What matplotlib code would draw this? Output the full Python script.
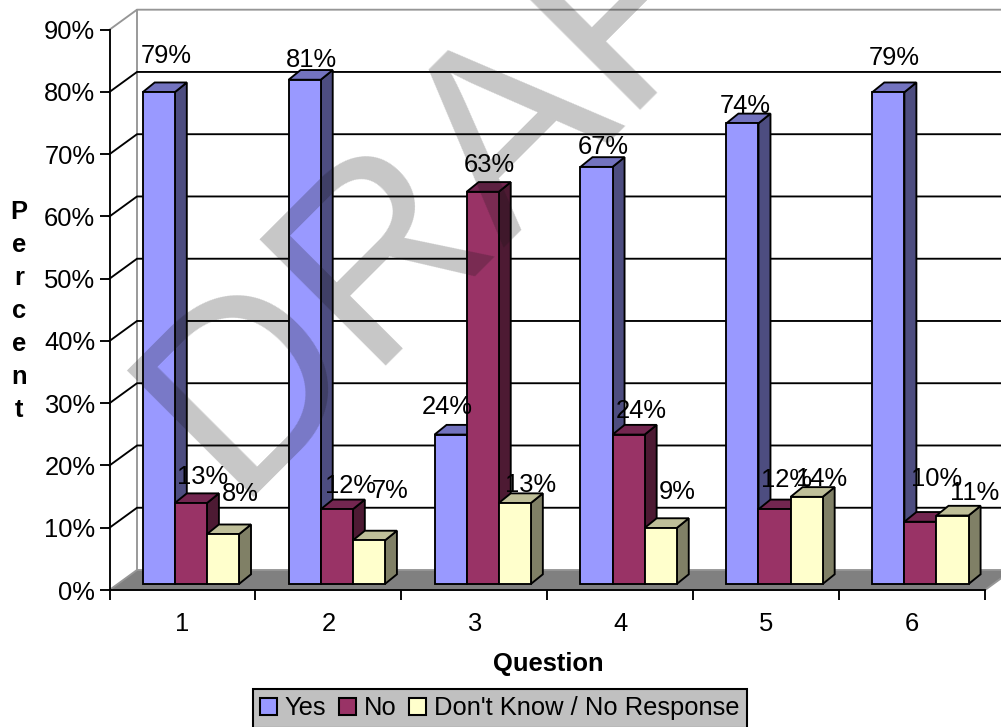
import matplotlib
matplotlib.use('Agg')
import matplotlib.pyplot as plt
from matplotlib.patches import Patch, Polygon, Rectangle

plt.rcParams['font.family'] = ['Liberation Sans', 'DejaVu Sans']

questions = ['1', '2', '3', '4', '5', '6']
yes = [79, 81, 24, 67, 74, 79]
no = [13, 12, 63, 24, 12, 10]
dont_know = [8, 7, 13, 9, 14, 11]
series_names = ['Yes', 'No', "Don't Know / No Response"]
y_ticks = [0, 10, 20, 30, 40, 50, 60, 70, 80, 90]

# colours: front, side, top
yes_colors = ('#9999FF', '#4D4D80', '#7373BF')
no_colors = ('#993366', '#4D1A33', '#732650')
dk_colors = ('#FFFFCC', '#808066', '#BFBF99')

# data label offsets from the top centre of each bar, in pixels
yes_nudge = [(7, 36), (7, 20), (-3, 28), (7, 20), (3, 17), (6, 34)]
no_nudge = [(12, 26), (14, 23), (7, 27), (13, 24), (12, 29), (16, 43)]
dk_nudge = [(17, 40), (21, 49), (16, 18), (16, 36), (15, 18), (22, 23)]

FONT = 18.4
W, H = 1001, 727
fig = plt.figure(figsize=(W / 100, H / 100), dpi=100, facecolor='white')
ax = fig.add_axes([109.5 / W, 1 - 590 / H, 875.5 / W, 560.3 / H])
ax.set_xlim(0, 6)
ax.set_ylim(0, 90)
ax.patch.set_visible(False)

px_x = 875.5 / 6
px_y = 560.3 / 90
LW = 1.35
wall_dx = 27.5 / px_x
wall_dy = 20 / px_y

# floor and back wall
ax.add_patch(Polygon([(0, 0), (6, 0), (6 + wall_dx, wall_dy), (wall_dx, wall_dy)],
                     facecolor='#808080', edgecolor='#969696', lw=LW, clip_on=False, zorder=1))
for v in y_ticks[1:]:
    color = '#969696' if v == 90 else 'black'
    ax.plot([0, wall_dx, 6 + wall_dx], [v, v + wall_dy, v + wall_dy], color=color, lw=LW,
            clip_on=False, zorder=1.5, solid_joinstyle='miter')
ax.plot([wall_dx, wall_dx], [wall_dy, 90 + wall_dy], color='#969696', lw=LW, clip_on=False, zorder=1.4)

# bar geometry
bar_w = 32.1 / px_x
bar_x0 = 0.17 + 8.4 / px_x
bar_y0 = 6 / px_y
depth_x = 12 / px_x
depth_y = 9.7 / px_y


def draw_bar(x, val, colors):
    y = bar_y0
    top = y + val
    edge = dict(edgecolor='black', lw=LW, clip_on=False, zorder=2, joinstyle='miter')
    ax.add_patch(Polygon([(x + bar_w, y), (x + bar_w + depth_x, y + depth_y),
                          (x + bar_w + depth_x, top + depth_y), (x + bar_w, top)],
                         facecolor=colors[1], **edge))
    ax.add_patch(Polygon([(x, top), (x + bar_w, top), (x + bar_w + depth_x, top + depth_y),
                          (x + depth_x, top + depth_y)], facecolor=colors[2], **edge))
    ax.add_patch(Rectangle((x, y), bar_w, val, facecolor=colors[0], **edge))


groups = [(yes, yes_colors, yes_nudge), (no, no_colors, no_nudge), (dont_know, dk_colors, dk_nudge)]
for i in range(len(questions)):
    for s, (vals, colors, nudge) in enumerate(groups):
        x = i + bar_x0 + s * bar_w
        draw_bar(x, vals[i], colors)

# data labels go on top of every bar
for i in range(len(questions)):
    for s, (vals, colors, nudge) in enumerate(groups):
        x = i + bar_x0 + s * bar_w
        ax.annotate(f'{vals[i]}%', xy=(x + bar_w / 2, vals[i] + bar_y0),
                    xytext=(nudge[i][0] * 0.72, nudge[i][1] * 0.72), textcoords='offset points',
                    ha='center', va='center', fontsize=FONT, color='black', zorder=5,
                    annotation_clip=False)

# axes
for side in ['top', 'right']:
    ax.spines[side].set_visible(False)
for side in ['left', 'bottom']:
    ax.spines[side].set_linewidth(LW)
    ax.spines[side].set_zorder(3)
ax.set_yticks(y_ticks)
ax.set_yticklabels([f'{v}%' for v in y_ticks], fontsize=FONT, va='center_baseline')
ax.set_xticks(range(7))
ax.set_xticklabels([])
ax.set_xticks([i + 0.5 for i in range(6)], minor=True)
ax.set_xticklabels(questions, minor=True, fontsize=FONT)
ax.tick_params(axis='both', which='major', length=7.2, width=LW)
ax.tick_params(axis='y', pad=3)
ax.tick_params(axis='x', which='minor', length=0, pad=16)

fig.text(548 / W, 1 - 664 / H, 'Question', fontsize=FONT, fontweight='bold', ha='center', va='center')
fig.text(19 / W, 1 - 311 / H, '\n'.join('Percent'), fontsize=FONT, fontweight='bold',
         ha='center', va='center', linespacing=1.47)

# legend sits against the bottom edge
handles = [Patch(facecolor=c[0], edgecolor='black', lw=LW * 1.1) for c in (yes_colors, no_colors, dk_colors)]
leg = ax.legend(handles, series_names, ncol=3, loc='lower left', fontsize=FONT,
                bbox_to_anchor=(252.7 / W, 1 - 728 / H), bbox_transform=fig.transFigure,
                facecolor='#C0C0C0', edgecolor='black', fancybox=False, framealpha=1,
                borderaxespad=0, borderpad=0.3, handlelength=0.66, handleheight=0.66,
                handletextpad=0.3, columnspacing=0.5)
leg.get_frame().set_linewidth(LW * 1.1)
leg.set_zorder(6)

# watermark across the plot
fig.text(232 / W, 1 - 497 / H, 'DRAFT', fontsize=187, color='#121212', alpha=0.24, rotation=45,
         rotation_mode='anchor', ha='left', va='baseline', zorder=10)

fig.savefig('out.png', dpi=100)
